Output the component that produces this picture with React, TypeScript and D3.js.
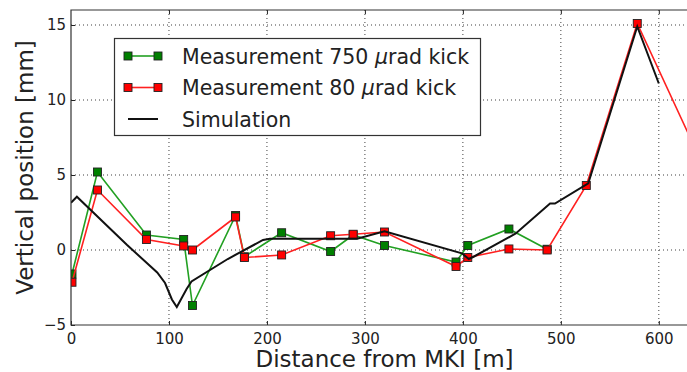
import React, { Component } from "react";
import * as d3 from "d3";

// Measurement with 750 urad kick
const green: [number, number][] = [
  [1, -1.6], [27, 5.2], [77, 1.0], [115, 0.7], [124, -3.7], [168, 2.3],
  [177, -0.45], [215, 1.15], [265, -0.1], [288, 1.0], [320, 0.3],
  [393, -0.8], [405, 0.3], [447, 1.4], [486, 0.05],
];
// Measurement with 80 urad kick
const red: [number, number][] = [
  [1, -2.15], [27, 4.0], [77, 0.7], [115, 0.27], [124, 0.0], [168, 2.2],
  [177, -0.5], [215, -0.33], [265, 0.95], [288, 1.05], [320, 1.2],
  [393, -1.1], [405, -0.5], [447, 0.07], [486, 0.0], [526, 4.3],
  [578, 15.1], [634, 7.2],
];
// Simulation
const sim: [number, number][] = [
  [0, 3.15], [6, 3.55], [57, 0.35], [88, -1.5], [96, -2.2], [103, -3.3],
  [108, -3.8], [113, -3.2], [118, -2.6], [123, -2.1], [160, -0.6],
  [196, 0.67], [203, 0.75], [292, 0.75], [320, 1.25], [399, -0.22],
  [406, -0.6], [411, -0.45], [454, 1.1], [489, 3.1], [494, 3.1],
  [528, 4.45], [578, 14.9], [600, 11.1],
];
const xTicks = [0, 100, 200, 300, 400, 500, 600];
const yTicks = [-5, 0, 5, 10, 15];
const legendItems = [
  { label: "Measurement 750 ", color: "#008000", line: "#22a022", marker: true },
  { label: "Measurement 80 ", color: "#ff0000", line: "#ff2020", marker: true },
  { label: "Simulation", color: "#000", line: "#111", marker: false },
];

const FONT = "'DejaVu Sans', Verdana, sans-serif";

export default class App extends Component {
  chartRef: any;
  componentDidMount() {
    const W = 687;
    const H = 372;
    const left = 71, top = 10, bottom = 325, right = 698;
    const svg = d3.select(this.chartRef).attr("width", W).attr("height", H);

    const x = d3.scaleLinear().domain([0, 640]).range([left, right]);
    const y = d3.scaleLinear().domain([-5, 16]).range([bottom, top]);

    svg.append("rect").attr("width", W).attr("height", H).attr("fill", "#fff");

    svg.append("defs").append("clipPath").attr("id", "plot")
      .append("rect").attr("x", left).attr("y", top)
      .attr("width", right - left).attr("height", bottom - top);

    // grid
    const grid = svg.append("g").attr("stroke", "#000").attr("stroke-width", 1)
      .attr("stroke-dasharray", "1,3").attr("opacity", 0.75);
    xTicks.slice(1).forEach((t) => {
      grid.append("line").attr("x1", x(t)).attr("x2", x(t)).attr("y1", top).attr("y2", bottom);
    });
    yTicks.slice(1).forEach((t) => {
      grid.append("line").attr("x1", left).attr("x2", right).attr("y1", y(t)).attr("y2", y(t));
    });

    const plot = svg.append("g").attr("clip-path", "url(#plot)");
    const line = d3.line<[number, number]>().x((d) => x(d[0])).y((d) => y(d[1]));

    [
      { data: green, fill: "#008000", stroke: "#22a022" },
      { data: red, fill: "#ff0000", stroke: "#ff2020" },
    ].forEach((s) => {
      plot.append("path").attr("d", line(s.data)).attr("fill", "none")
        .attr("stroke", s.stroke).attr("stroke-width", 1.6);
      plot.append("g").selectAll("rect").data(s.data).enter().append("rect")
        .attr("x", (d) => x(d[0]) - 4).attr("y", (d) => y(d[1]) - 4)
        .attr("width", 8).attr("height", 8)
        .attr("fill", s.fill).attr("stroke", "#222").attr("stroke-width", 0.9);
    });

    plot.append("path").attr("d", line(sim)).attr("fill", "none")
      .attr("stroke", "#111").attr("stroke-width", 2);

    // axes
    const xAxis = svg.append("g").attr("transform", `translate(0,${bottom})`)
      .call(d3.axisBottom(x).tickValues(xTicks).tickSize(-4).tickPadding(8));
    const xTop = svg.append("g").attr("transform", `translate(0,${top})`)
      .call(d3.axisTop(x).tickValues(xTicks.slice(1)).tickSize(-4).tickFormat(() => ""));
    const yAxis = svg.append("g").attr("transform", `translate(${left},0)`)
      .call(d3.axisLeft(y).tickValues(yTicks).tickSize(-4).tickPadding(5));
    [xAxis, xTop, yAxis].forEach((a) => {
      a.select(".domain").remove();
      a.selectAll("line").attr("stroke", "#222");
      a.selectAll("text").attr("font-family", FONT).attr("font-size", 15).attr("fill", "#222");
    });

    // frame
    svg.append("path")
      .attr("d", `M${right},${top}H${left}V${bottom}H${right}`)
      .attr("fill", "none").attr("stroke", "#333").attr("stroke-width", 1.2);

    // axis labels
    svg.append("text").attr("x", (left + right) / 2).attr("y", 367)
      .attr("text-anchor", "middle").attr("font-family", FONT).attr("font-size", 23)
      .attr("fill", "#222").text("Distance from MKI [m]");
    svg.append("text").attr("transform", `translate(32.5,${(top + bottom) / 2}) rotate(-90)`)
      .attr("text-anchor", "middle").attr("font-family", FONT).attr("font-size", 23)
      .attr("fill", "#222").text("Vertical position [mm]");

    // legend
    const lg = svg.append("g");
    lg.append("rect").attr("x", 114.5).attr("y", 38.5).attr("width", 366).attr("height", 97)
      .attr("fill", "#fff").attr("stroke", "#333").attr("stroke-width", 1.2);
    legendItems.forEach((it, i) => {
      const cy = 56 + i * 31.5;
      lg.append("line").attr("x1", 128).attr("x2", 158).attr("y1", cy).attr("y2", cy)
        .attr("stroke", it.line).attr("stroke-width", it.marker ? 1.6 : 2);
      if (it.marker) {
        [128, 158].forEach((mx) => {
          lg.append("rect").attr("x", mx - 4).attr("y", cy - 4).attr("width", 8).attr("height", 8)
            .attr("fill", it.color).attr("stroke", "#222").attr("stroke-width", 0.9);
        });
      }
      const t = lg.append("text").attr("x", 182).attr("y", cy + 7.5)
        .attr("font-family", FONT).attr("font-size", 20.5).attr("fill", "#222")
        .attr("xml:space", "preserve").style("white-space", "pre");
      t.append("tspan").text(it.label);
      if (it.marker) {
        t.append("tspan").attr("font-style", "italic").text("\u03bc");
        t.append("tspan").text("rad kick");
      }
    });
  }
  render() {
    return (
      <div style={{ width: "100%" }}>
        <svg
          ref={(r) => (this.chartRef = r)}
          style={{ position: "absolute", left: 0, top: 0 }}
        ></svg>
      </div>
    );
  }
}
